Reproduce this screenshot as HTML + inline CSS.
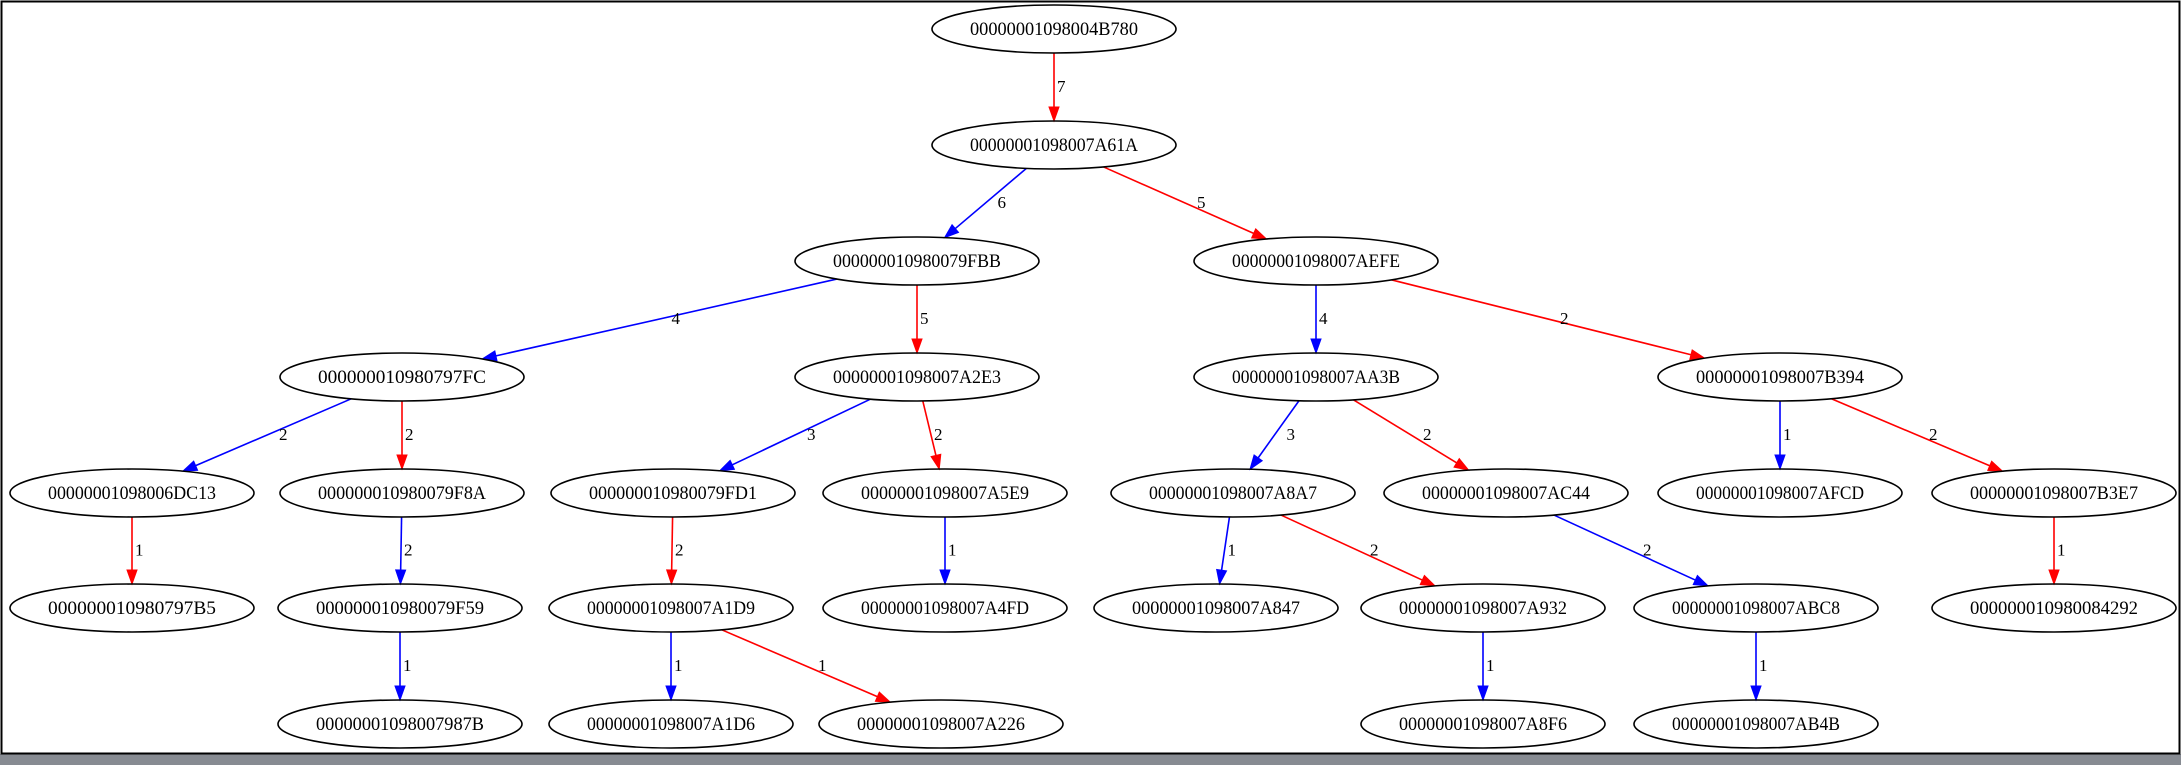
<!DOCTYPE html>
<html><head><meta charset="utf-8"><style>
html,body{margin:0;padding:0;background:#fff;}
svg{display:block;}
text{font-family:"Liberation Serif","DejaVu Serif",serif;}
</style></head><body>
<svg id="g" width="2181" height="765" viewBox="0 0 2181 765" xmlns="http://www.w3.org/2000/svg">
<rect x="0" y="0" width="2181" height="765" fill="#fff"/>
<rect x="0" y="754" width="2181" height="11" fill="#878b92"/>
<rect x="1.5" y="1.5" width="2178" height="752" fill="none" stroke="#000" stroke-width="2"/>
<g id="edges"></g>
<g id="nodes" fill="none" stroke="#000" stroke-width="1.6"></g>
<g id="labels" font-size="19" text-anchor="middle" fill="#000">
<text id="n0">00000001098004B780</text>
<text id="n1">00000001098007A61A</text>
<text id="n2">000000010980079FBB</text>
<text id="n3">00000001098007AEFE</text>
<text id="n4">000000010980797FC</text>
<text id="n5">00000001098007A2E3</text>
<text id="n6">00000001098007AA3B</text>
<text id="n7">00000001098007B394</text>
<text id="n8">00000001098006DC13</text>
<text id="n9">000000010980079F8A</text>
<text id="n10">000000010980079FD1</text>
<text id="n11">00000001098007A5E9</text>
<text id="n12">00000001098007A8A7</text>
<text id="n13">00000001098007AC44</text>
<text id="n14">00000001098007AFCD</text>
<text id="n15">00000001098007B3E7</text>
<text id="n16">000000010980797B5</text>
<text id="n17">000000010980079F59</text>
<text id="n18">00000001098007A1D9</text>
<text id="n19">00000001098007A4FD</text>
<text id="n20">00000001098007A847</text>
<text id="n21">00000001098007A932</text>
<text id="n22">00000001098007ABC8</text>
<text id="n23">000000010980084292</text>
<text id="n24">00000001098007987B</text>
<text id="n25">00000001098007A1D6</text>
<text id="n26">00000001098007A226</text>
<text id="n27">00000001098007A8F6</text>
<text id="n28">00000001098007AB4B</text>
</g>
<g id="elabels" font-size="17" fill="#000">
<text>7</text><text>6</text><text>5</text><text>4</text><text>5</text><text>4</text><text>2</text>
<text>2</text><text>2</text><text>3</text><text>2</text><text>3</text><text>2</text><text>1</text><text>2</text>
<text>1</text><text>2</text><text>2</text><text>1</text><text>1</text><text>2</text><text>2</text><text>1</text>
<text>1</text><text>1</text><text>1</text><text>1</text><text>1</text>
</g>
</svg>
<script>
var Y=[29,145,261,377,493,608,724];
var N=[[1054,0],[1054,1],[917,2],[1316,2],[402,3],[917,3],[1316,3],[1780,3],
[132,4],[402,4],[673,4],[945,4],[1233,4],[1506,4],[1780,4],[2054,4],
[132,5],[400,5],[671,5],[945,5],[1216,5],[1483,5],[1756,5],[2054,5],
[400,6],[671,6],[941,6],[1483,6],[1756,6]];
var RX=122,RY=24;
var E=[[0,1,'r'],[1,2,'b'],[1,3,'r'],[2,4,'b'],[2,5,'r'],[3,6,'b'],[3,7,'r'],
[4,8,'b'],[4,9,'r'],[5,10,'b'],[5,11,'r'],[6,12,'b'],[6,13,'r'],[7,14,'b'],[7,15,'r'],
[8,16,'r'],[9,17,'b'],[10,18,'r'],[11,19,'b'],[12,20,'b'],[12,21,'r'],[13,22,'b'],[15,23,'r'],
[17,24,'b'],[18,25,'b'],[18,26,'r'],[21,27,'b'],[22,28,'b']];
var ns="http://www.w3.org/2000/svg";
var ng=document.getElementById('nodes'),eg=document.getElementById('edges');
N.forEach(function(n,i){
 var e=document.createElementNS(ns,'ellipse');
 e.setAttribute('cx',n[0]);e.setAttribute('cy',Y[n[1]]);e.setAttribute('rx',RX);e.setAttribute('ry',RY);
 ng.appendChild(e);
 var t=document.getElementById('n'+i);
 t.setAttribute('x',n[0]);t.setAttribute('y',Y[n[1]]+6);
 t.setAttribute('textLength',168);t.setAttribute('lengthAdjust','spacingAndGlyphs');
});
var labs=document.getElementById('elabels').getElementsByTagName('text');
E.forEach(function(ed,i){
 var p=N[ed[0]],c=N[ed[1]];
 var px=p[0],py=Y[p[1]],cx=c[0],cy=Y[c[1]];
 var dx=cx-px,dy=cy-py;
 var t=1/Math.sqrt((dx/RX)*(dx/RX)+(dy/RY)*(dy/RY));
 var sx=px+dx*t,sy=py+dy*t,exx=cx-dx*t,eyy=cy-dy*t;
 var L=Math.sqrt(dx*dx+dy*dy),ux=dx/L,uy=dy/L;
 var col=ed[2]=='r'?'#ff0000':'#0000ff';
 var ax=exx-ux*14,ay=eyy-uy*14;
 var l=document.createElementNS(ns,'line');
 l.setAttribute('x1',sx);l.setAttribute('y1',sy);l.setAttribute('x2',ax);l.setAttribute('y2',ay);
 l.setAttribute('stroke',col);l.setAttribute('stroke-width',1.6);eg.appendChild(l);
 var pg=document.createElementNS(ns,'polygon');
 pg.setAttribute('points',exx+','+eyy+' '+(ax-uy*5)+','+(ay+ux*5)+' '+(ax+uy*5)+','+(ay-ux*5));
 pg.setAttribute('fill',col);pg.setAttribute('stroke',col);eg.appendChild(pg);
 var mx=(sx+exx)/2,my=(sy+eyy)/2;
 var off=Math.abs(dx)>40?12:3;
 labs[i].setAttribute('x',mx+off);labs[i].setAttribute('y',my+5);
});
</script>
</body></html>
